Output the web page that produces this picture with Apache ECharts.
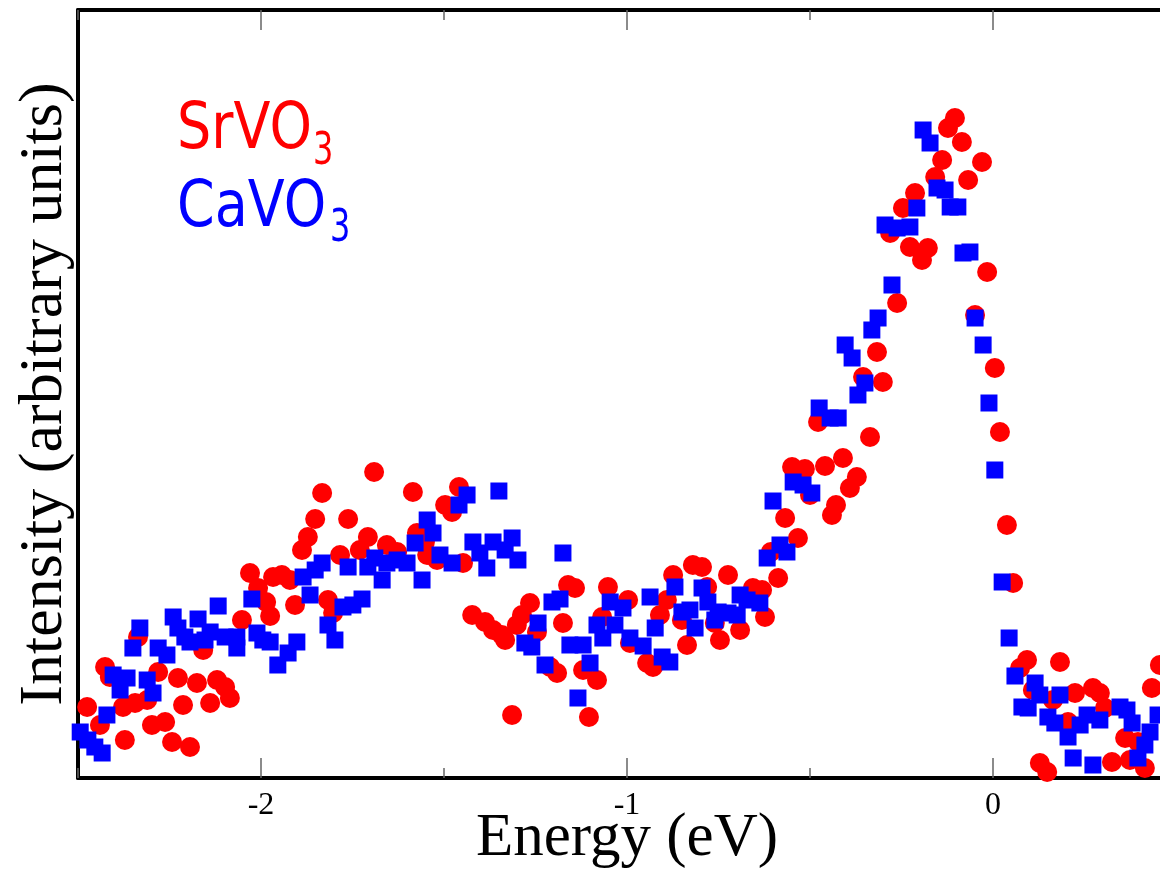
<!DOCTYPE html>
<html>
<head>
<meta charset="utf-8">
<script src="https://cdn.jsdelivr.net/npm/echarts@6/dist/echarts.min.js"></script>
<style>
  html, body { margin: 0; padding: 0; background: #fff; }
  #chart { width: 1160px; height: 873px; }
</style>
</head>
<body>
<div id="chart"></div>
<script>
// [energy (eV), intensity (arb. units)]
const srvoPoints = [
  [-2.503,46],[-2.475,71],[-2.440,53],[-2.426,111],[-2.413,101],[-2.377,71],[-2.372,38],[-2.344,75],
  [-2.336,141],[-2.311,78],[-2.298,53],[-2.281,106],[-2.262,56],[-2.243,36],[-2.227,100],[-2.213,73],
  [-2.194,31],[-2.175,95],[-2.158,128],[-2.139,75],[-2.120,98],[-2.098,91],[-2.085,80],[-2.052,158],
  [-2.030,205],[-2.008,190],[-1.986,176],[-1.975,162],[-1.967,201],[-1.943,203],[-1.921,198],[-1.907,173],
  [-1.888,228],[-1.872,241],[-1.852,259],[-1.833,285],[-1.817,178],[-1.803,165],[-1.784,223],[-1.762,259],
  [-1.730,228],[-1.708,241],[-1.691,306],[-1.656,233],[-1.628,226],[-1.585,286],[-1.574,245],[-1.552,236],
  [-1.546,223],[-1.519,218],[-1.497,273],[-1.478,266],[-1.459,291],[-1.448,215],
  [-1.423,163],[-1.388,156],[-1.366,148],[-1.342,143],[-1.333,138],[-1.314,63],[-1.301,153],[-1.287,163],
  [-1.265,175],[-1.246,146],[-1.210,111],[-1.191,105],[-1.175,155],[-1.161,193],[-1.142,190],[-1.120,108],
  [-1.104,61],[-1.082,98],[-1.068,161],[-1.052,191],[-0.997,178],[-0.992,135],[-0.945,115],[-0.929,111],
  [-0.910,163],[-0.891,178],[-0.874,203],[-0.850,158],[-0.836,133],[-0.820,213],[-0.795,211],[-0.781,191],
  [-0.760,155],[-0.746,138],[-0.724,203],[-0.691,148],[-0.656,190],[-0.631,188],[-0.623,161],[-0.607,226],
  [-0.587,200],[-0.568,260],[-0.549,311],[-0.533,240],[-0.514,309],[-0.500,283],[-0.478,356],[-0.459,312],
  [-0.440,263],[-0.429,273],[-0.410,320],[-0.391,290],[-0.372,301],[-0.355,401],[-0.336,341],[-0.317,426],
  [-0.301,396],[-0.281,545],[-0.262,475],[-0.246,570],[-0.227,531],[-0.213,585],[-0.194,518],[-0.178,530],
  [-0.158,601],[-0.139,618],[-0.123,650],[-0.104,660],[-0.085,636],[-0.068,598],[-0.030,616],[-0.049,463],
  [-0.016,506],[0.005,410],[0.019,346],[0.038,253],[0.055,195],[0.074,110],[0.093,118],[0.109,88],
  [0.128,15],[0.148,6],[0.164,78],[0.183,116],[0.205,56],[0.224,85],[0.273,90],[0.292,85],
  [0.306,70],[0.325,16],[0.361,40],[0.374,18],[0.396,36],[0.415,10],[0.434,90],[0.456,113]
];

const cavoPoints = [
  [-2.494,46],[-2.473,38],[-2.454,31],[-2.434,25],[-2.421,63],[-2.404,103],[-2.385,88],[-2.366,100],
  [-2.350,130],[-2.331,150],[-2.311,98],[-2.295,85],[-2.281,130],[-2.257,123],[-2.240,161],[-2.227,150],
  [-2.208,141],[-2.194,136],[-2.172,159],[-2.153,138],[-2.139,146],[-2.117,172],[-2.098,141],[-2.066,141],
  [-2.066,130],[-2.025,179],[-2.011,145],[-1.995,138],[-1.975,136],[-1.954,113],[-1.926,125],[-1.902,136],
  [-1.885,201],[-1.866,183],[-1.852,208],[-1.833,215],[-1.817,153],[-1.798,138],[-1.776,171],[-1.762,211],
  [-1.749,173],[-1.724,179],[-1.708,211],[-1.689,220],[-1.669,198],[-1.656,215],[-1.628,218],[-1.601,215],
  [-1.579,235],[-1.560,198],[-1.546,258],[-1.530,245],[-1.511,223],[-1.478,215],[-1.459,273],[-1.437,283],
  [-1.421,236],[-1.402,225],[-1.383,210],[-1.366,236],[-1.350,287],[-1.333,228],[-1.314,240],[-1.298,218],
  [-1.279,135],[-1.260,131],[-1.243,155],[-1.224,113],[-1.205,176],[-1.183,179],[-1.175,225],[-1.156,133],
  [-1.134,80],[-1.120,133],[-1.101,115],[-1.082,153],[-1.066,140],[-1.046,176],[-1.033,153],[-1.011,170],
  [-0.992,140],[-0.956,132],[-0.937,181],[-0.923,150],[-0.904,121],[-0.883,116],[-0.869,191],[-0.850,166],
  [-0.828,168],[-0.814,150],[-0.795,190],[-0.779,176],[-0.760,158],[-0.751,166],[-0.724,165],[-0.699,163],
  [-0.691,183],[-0.672,178],[-0.637,175],[-0.617,220],[-0.601,277],[-0.582,233],[-0.563,226],[-0.546,296],
  [-0.519,293],[-0.495,285],[-0.475,370],[-0.445,360],[-0.423,360],[-0.404,433],[-0.385,420],[-0.369,383],
  [-0.350,395],[-0.331,448],[-0.314,460],[-0.295,553],[-0.276,493],[-0.262,550],[-0.227,551],[-0.208,570],
  [-0.191,648],[-0.172,635],[-0.153,590],[-0.131,588],[-0.117,571],[-0.096,571],[-0.082,525],[-0.063,526],
  [-0.049,460],[-0.027,433],[-0.011,375],[0.005,308],[0.025,196],[0.044,140],[0.060,102],[0.079,71],
  [0.096,70],[0.115,95],[0.128,83],[0.150,61],[0.169,55],[0.183,83],[0.205,41],[0.219,20],
  [0.238,53],[0.257,63],[0.273,13],[0.292,58],[0.347,71],[0.366,68],[0.380,55],[0.396,20],
  [0.415,33],[0.429,46],[0.451,63]
];

const majorTicks = [-2, -1, 0];
const xMin = -2.5, xMax = 0.5, xStep = 0.5;
const yMin = 0, yMax = 768;

const serif = '"Liberation Serif", "DejaVu Serif", serif';
const tickStyle = {color: '#666', width: 1.5};

function xAxisBase(position, extra) {
  return Object.assign({
    type: 'value',
    position: position,
    min: xMin,
    max: xMax,
    interval: xStep,
    splitLine: {show: false},
    axisLine: {show: false, onZero: false},
    axisTick: {show: false},
    axisLabel: {show: false}
  }, extra);
}

const chart = echarts.init(document.getElementById('chart'));
chart.setOption({
  animation: false,
  backgroundColor: '#fff',
  grid: {left: 78, right: -16, top: 10, bottom: 95, containLabel: false, outerBoundsMode: 'none'},
  xAxis: [
    xAxisBase('bottom', {
      name: 'Energy (eV)',
      nameLocation: 'middle',
      nameGap: 30,
      nameMoveOverlap: false,
      nameTextStyle: {fontFamily: serif, fontSize: 61, color: '#000', verticalAlign: 'top'},
      axisLine: {show: true, onZero: false, lineStyle: {color: '#000', width: 4}},
      axisTick: {show: true, inside: true, length: 10, lineStyle: tickStyle},
      axisLabel: {show: true, customValues: majorTicks, margin: 12,
        fontFamily: serif, fontSize: 32, color: '#000'}
    }),
    xAxisBase('bottom', {
      axisTick: {show: true, inside: true, length: 20, customValues: majorTicks, lineStyle: tickStyle}
    }),
    xAxisBase('top', {
      axisLine: {show: true, onZero: false, lineStyle: {color: '#000', width: 4}},
      axisTick: {show: true, inside: true, length: 10, lineStyle: tickStyle}
    }),
    xAxisBase('top', {
      axisTick: {show: true, inside: true, length: 20, customValues: majorTicks, lineStyle: tickStyle}
    })
  ],
  yAxis: {
    type: 'value',
    min: yMin,
    max: yMax,
    name: 'Intensity (arbitrary units)',
    nameLocation: 'middle',
    nameGap: 2,
    nameTextStyle: {fontFamily: serif, fontSize: 62, color: '#000'},
    axisLine: {show: true, onZero: false, lineStyle: {color: '#000', width: 4}},
    axisTick: {show: false},
    axisLabel: {show: false},
    splitLine: {show: false}
  },
  graphic: [
    {type: 'text', x: 177, y: 131, scaleY: 1.2,
      style: {text: 'SrVO', fill: '#ff0000', font: '54px "DejaVu Sans"', verticalAlign: 'middle'}},
    {type: 'text', x: 313, y: 152, scaleY: 1.4,
      style: {text: '3', fill: '#ff0000', font: '32px "DejaVu Sans"', verticalAlign: 'middle'}},
    {type: 'text', x: 177, y: 209, scaleY: 1.2,
      style: {text: 'CaVO', fill: '#0000ff', font: '54px "DejaVu Sans"', verticalAlign: 'middle'}},
    {type: 'text', x: 330, y: 229, scaleY: 1.4,
      style: {text: '3', fill: '#0000ff', font: '32px "DejaVu Sans"', verticalAlign: 'middle'}}
  ],
  series: [
    {
      name: 'SrVO3',
      type: 'scatter',
      xAxisIndex: 0,
      data: srvoPoints,
      symbol: 'circle',
      symbolSize: 20,
      itemStyle: {color: '#ff0000', opacity: 1}
    },
    {
      name: 'CaVO3',
      type: 'scatter',
      xAxisIndex: 0,
      data: cavoPoints,
      symbol: 'rect',
      symbolSize: 17,
      itemStyle: {color: '#0000ff', opacity: 1}
    }
  ]
});
</script>
</body>
</html>
